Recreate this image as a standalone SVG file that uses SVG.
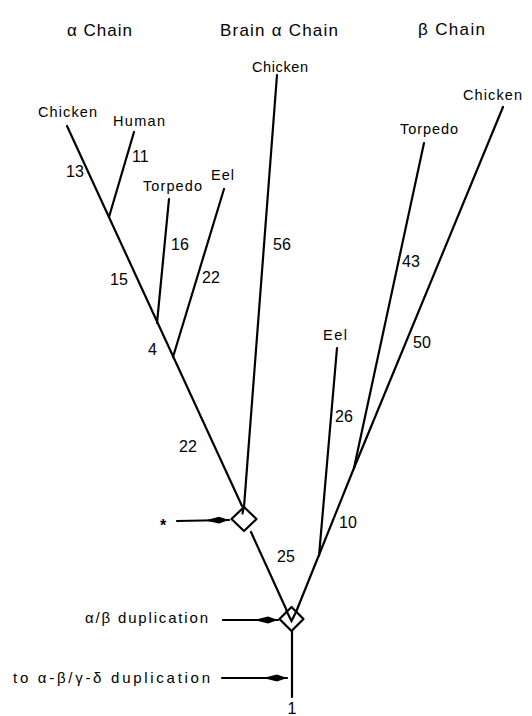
<svg xmlns="http://www.w3.org/2000/svg" width="532" height="716" viewBox="0 0 532 716">
  <style>
    .edge { stroke: #000; stroke-width: 2.2; fill: none; stroke-linecap: round; }
    .node { stroke: #000; stroke-width: 2.2; fill: #fff; stroke-linejoin: round; }
    .head { font-family: "Liberation Sans", Arial, sans-serif; font-size: 17px; fill: #000; }
    .lbl { font-family: "Liberation Sans", Arial, sans-serif; font-size: 14.5px; fill: #000; }
    .num { font-family: "Liberation Sans", Arial, sans-serif; font-size: 16px; fill: #000; }
    .note { font-family: "Liberation Sans", Arial, sans-serif; font-size: 15px; fill: #000; }
  </style>
  <defs>
    <marker id="spindle" markerUnits="userSpaceOnUse" markerWidth="26" markerHeight="8" refX="0" refY="0" viewBox="-24 -4 26 8" orient="auto" overflow="visible">
      <path d="M-24,0 L-10,-3.4 L0,0 L-10,3.4 Z" fill="#000"/>
    </marker>
  </defs>
  <rect width="532" height="716" fill="#fff"/>

  <!-- column headings -->
  <g id="headings">
    <text class="head" x="67" y="36" textLength="65" lengthAdjust="spacing">α Chain</text>
    <text class="head" x="220" y="36" textLength="118" lengthAdjust="spacing">Brain α Chain</text>
    <text class="head" x="418" y="35" textLength="67" lengthAdjust="spacing">β Chain</text>
  </g>

  <!-- branches -->
  <g id="connectors">
    <!-- alpha chain -->
    <line class="edge" x1="67" y1="126" x2="242" y2="506"/>
    <line class="edge" x1="134" y1="132" x2="109" y2="217"/>
    <line class="edge" x1="169" y1="199" x2="157" y2="323"/>
    <line class="edge" x1="224" y1="189" x2="173" y2="357"/>
    <!-- brain alpha chain -->
    <line class="edge" x1="277" y1="75" x2="244" y2="507"/>
    <!-- alpha stem down to the alpha/beta node -->
    <line class="edge" x1="251" y1="532" x2="292" y2="622"/>
    <!-- beta chain -->
    <line class="edge" x1="424" y1="143" x2="354" y2="468"/>
    <line class="edge" x1="503" y1="107" x2="354" y2="468"/>
    <line class="edge" x1="337" y1="348" x2="319" y2="556"/>
    <line class="edge" x1="354" y1="468" x2="292" y2="622"/>
    <!-- root -->
    <line class="edge" x1="292" y1="631" x2="292" y2="697"/>
    <!-- event arrows -->
    <line class="edge" x1="177" y1="521" x2="229" y2="520" marker-end="url(#spindle)"/>
    <line class="edge" x1="223" y1="620" x2="278" y2="620" marker-end="url(#spindle)"/>
    <line class="edge" x1="222" y1="678" x2="287" y2="678" marker-end="url(#spindle)"/>
  </g>

  <!-- duplication nodes -->
  <g id="node-brain-dup">
    <path class="node" d="M244,507 L256.5,519 L244,531 L231.5,519 Z"/>
    <line class="edge" x1="243.5" y1="508" x2="242.5" y2="513.5"/>
  </g>
  <g id="node-ab-dup">
    <path class="node" d="M291.5,607 L303.5,619 L291.5,631 L279.5,619 Z"/>
    <polyline class="edge" points="286.5,611 291.5,621 296.5,611"/>
  </g>

  <!-- leaf labels -->
  <g id="leaf-alpha-chicken"><text class="lbl" x="38" y="117" textLength="59" lengthAdjust="spacing">Chicken</text></g>
  <g id="leaf-alpha-human"><text class="lbl" x="113" y="126" textLength="52" lengthAdjust="spacing">Human</text></g>
  <g id="leaf-alpha-torpedo"><text class="lbl" x="143" y="191" textLength="59" lengthAdjust="spacing">Torpedo</text></g>
  <g id="leaf-alpha-eel"><text class="lbl" x="211" y="180" textLength="23" lengthAdjust="spacing">Eel</text></g>
  <g id="leaf-brain-chicken"><text class="lbl" x="252" y="72" textLength="56" lengthAdjust="spacing">Chicken</text></g>
  <g id="leaf-beta-torpedo"><text class="lbl" x="400" y="134" textLength="58" lengthAdjust="spacing">Torpedo</text></g>
  <g id="leaf-beta-chicken"><text class="lbl" x="463" y="100" textLength="59" lengthAdjust="spacing">Chicken</text></g>
  <g id="leaf-beta-eel"><text class="lbl" x="323" y="340" textLength="24" lengthAdjust="spacing">Eel</text></g>

  <!-- branch lengths -->
  <g id="branch-lengths">
    <text class="num" x="132" y="162">11</text>
    <text class="num" x="66" y="177">13</text>
    <text class="num" x="171" y="250">16</text>
    <text class="num" x="202" y="283">22</text>
    <text class="num" x="110" y="285">15</text>
    <text class="num" x="148" y="355">4</text>
    <text class="num" x="273" y="250">56</text>
    <text class="num" x="402" y="267">43</text>
    <text class="num" x="413" y="348">50</text>
    <text class="num" x="335" y="422">26</text>
    <text class="num" x="339" y="528">10</text>
    <text class="num" x="179" y="452">22</text>
    <text class="num" x="277" y="562">25</text>
  </g>

  <!-- event notes -->
  <g id="note-star"><text class="num" x="163" y="531" text-anchor="middle" font-size="30" font-weight="bold">*</text></g>
  <g id="note-ab"><text class="note" x="85" y="623" textLength="123" lengthAdjust="spacing">α/β duplication</text></g>
  <g id="note-root"><text class="note" x="13" y="683" textLength="197" lengthAdjust="spacing">to α-β/γ-δ duplication</text></g>
  <g id="root-label"><text class="num" x="292" y="714" text-anchor="middle" font-size="10">1</text></g>
</svg>
